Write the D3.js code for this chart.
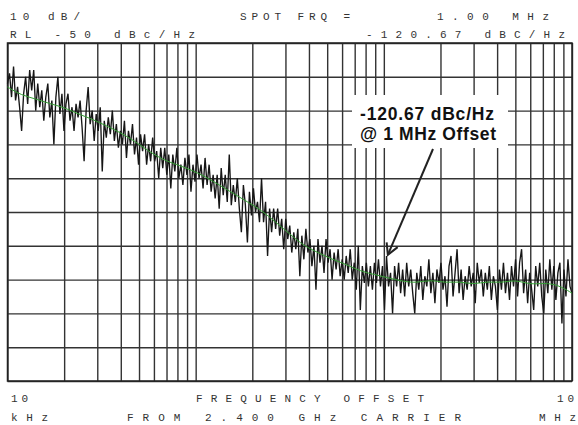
<!DOCTYPE html>
<html>
<head>
<meta charset="utf-8">
<script src="https://cdn.jsdelivr.net/npm/d3@7"></script>
<style>
  body { margin: 0; background: #fff; }
  .hp { font-family: 'Liberation Mono', 'DejaVu Sans Mono', monospace; font-size: 11px; fill: #333; }
  .note { font-family: 'Liberation Sans', Arial, sans-serif; font-weight: bold; font-size: 17.5px; fill: #111; }
</style>
</head>
<body>
<svg width="578" height="425"></svg>
<script>
// sweep: 281 points, log spaced 10 kHz .. 10 MHz, phase noise in dBc/Hz
const sweepStart = 1e4;
const sweepStop = 1e7;
const sweepDb = [
  -62,-59,-66,-57,-67,-63,-69,-76,-65,-60,-68,-58,-64,-58,-70,-62,-69,-64,-73,-66,
  -62,-72,-67,-80,-66,-60,-71,-65,-76,-68,-65,-73,-69,-76,-68,-72,-67,-75,-85,-70,
  -63,-74,-70,-79,-71,-76,-69,-88,-73,-78,-72,-77,-70,-79,-74,-81,-76,-80,-73,-84,
  -76,-80,-74,-83,-78,-86,-77,-82,-77,-86,-80,-85,-78,-85,-82,-90,-81,-87,-81,-89,
  -83,-93,-83,-88,-81,-90,-86,-92,-84,-89,-83,-94,-86,-91,-83,-90,-86,-93,-84,-92,
  -86,-94,-89,-96,-89,-99,-87,-95,-89,-97,-83,-98,-92,-97,-90,-99,-106,-92,-98,-109,
  -94,-101,-93,-100,-97,-103,-90,-103,-97,-113,-99,-106,-99,-105,-99,-107,-102,-111,-102,-108,
  -104,-112,-106,-111,-105,-119,-107,-114,-105,-112,-108,-116,-110,-123,-108,-115,-110,-118,-108,-115,
  -111,-120,-112,-117,-111,-119,-114,-120,-113,-118,-111,-120,-115,-123,-110,-129,-116,-121,-115,-122,
  -116,-123,-115,-121,-114,-122,-116,-129,-113,-122,-118,-130,-116,-122,-115,-124,-117,-125,-115,-122,
  -117,-124,-130,-118,-123,-116,-126,-119,-122,-114,-124,-118,-127,-117,-121,-115,-123,-119,-128,-116,
  -113,-125,-118,-111,-124,-117,-126,-119,-123,-116,-122,-118,-127,-115,-121,-117,-125,-118,-123,-116,
  -126,-119,-122,-129,-117,-123,-115,-124,-118,-126,-116,-122,-114,-125,-115,-111,-124,-117,-127,-118,
  -123,-129,-116,-122,-115,-125,-130,-117,-124,-114,-123,-116,-126,-118,-115,-133,-117,-125,-114,-122,-124
];
// averaged (green) trace, 41 points over the same sweep
const avgDb = [
  -63,-65.5,-66.5,-68,-69,-71,-72.5,-74.5,-76.5,-79,
  -82,-84.5,-86,-87.5,-89.5,-92,-94.5,-97,-99.5,-103,
  -106.5,-110,-112,-114,-115.5,-117.5,-118.5,-119.5,-120.5,-121,
  -120,-121,-120.5,-121.5,-120.5,-121,-120,-121.5,-121,-121.5,-124
];
const refLevel = -50;
const dbPerDiv = 10;

const headerText = ['10 dB/', 'SPOT FRQ =', '1.00 MHz', 'RL -50 dBc/Hz', '-120.67 dBC/Hz'];
const footerText = ['10', 'FREQUENCY OFFSET', '10', 'kHz', 'FROM 2.400 GHz CARRIER', 'MHz'];
const noteText = ['-120.67 dBc/Hz', '@ 1 MHz Offset'];
const markerFreq = 1e6;
const markerDb = -120.67;

const svg = d3.select('svg');
const width = +svg.attr('width');
const height = +svg.attr('height');

const render = () => {
    const margin = { top: 43, right: 6, bottom: 44, left: 7.5 };
    const innerWidth = width - margin.left - margin.right;
    const innerHeight = height - margin.top - margin.bottom;

    const sweepFreq = sweepDb.map((d, i) =>
        sweepStart * Math.pow(sweepStop / sweepStart, i / (sweepDb.length - 1)));
    const avgFreq = avgDb.map((d, i) =>
        sweepStart * Math.pow(sweepStop / sweepStart, i / (avgDb.length - 1)));

    const xScale = d3.scaleLog()
        .domain([sweepStart, sweepStop])
        .range([0, innerWidth]);

    const yScale = d3.scaleLinear()
        .domain([refLevel - 10 * dbPerDiv, refLevel])
        .range([innerHeight, 0]);

    const g = svg.append('g')
        .attr('transform', `translate(${margin.left}, ${margin.top})`);

    // grid
    const xGrid = g.append('g')
        .attr('transform', `translate(0, ${innerHeight})`)
        .call(d3.axisBottom(xScale).tickSize(-innerHeight).tickFormat(''));
    const yGrid = g.append('g')
        .call(d3.axisLeft(yScale).ticks(10).tickSize(-innerWidth).tickFormat(''));
    [xGrid, yGrid].forEach(a => {
        a.select('.domain').remove();
        a.selectAll('line').attr('stroke', '#333').attr('stroke-width', 1.4);
    });

    g.append('rect')
        .attr('width', innerWidth)
        .attr('height', innerHeight)
        .attr('fill', 'none')
        .attr('stroke', '#222')
        .attr('stroke-width', 1.5);

    const line = d3.line()
        .x(d => xScale(d[0]))
        .y(d => yScale(d[1]));

    g.append('path')
        .attr('d', line(d3.zip(sweepFreq, sweepDb)))
        .attr('fill', 'none')
        .attr('stroke', '#161616')
        .attr('stroke-width', 1.35);

    g.append('path')
        .attr('d', line.curve(d3.curveBasis)(d3.zip(avgFreq, avgDb)))
        .attr('fill', 'none')
        .attr('stroke', '#35a035')
        .attr('stroke-width', 1);

    // annotation
    const noteX = 352 - margin.left;
    const noteY = 95 - margin.top;
    g.append('rect')
        .attr('x', noteX)
        .attr('y', noteY)
        .attr('width', 156)
        .attr('height', 53)
        .attr('fill', '#fff');

    g.selectAll('.note').data(noteText).enter().append('text')
        .attr('class', 'note')
        .attr('x', noteX + 8)
        .attr('y', (d, i) => noteY + 25 + i * 20)
        .attr('textLength', (d, i) => i ? 136 : 134)
        .attr('lengthAdjust', 'spacing')
        .text(d => d);

    svg.append('defs').append('marker')
        .attr('id', 'head')
        .attr('markerUnits', 'userSpaceOnUse')
        .attr('viewBox', '-12 -7 14 14')
        .attr('markerWidth', 14)
        .attr('markerHeight', 14)
        .attr('orient', 'auto')
        .append('path')
        .attr('d', 'M-11,-6 L0,0 L-11,6')
        .attr('fill', 'none')
        .attr('stroke', '#222')
        .attr('stroke-width', 2);

    const tipX = xScale(markerFreq) + 4;
    const tipY = yScale(markerDb) - 27;
    g.append('line')
        .attr('x1', 433 - margin.left)
        .attr('y1', 149 - margin.top)
        .attr('x2', tipX)
        .attr('y2', tipY)
        .attr('stroke', '#222')
        .attr('stroke-width', 2)
        .attr('marker-end', 'url(#head)');

    // instrument annotations
    const headerPos = [[10, 20, 70], [240, 20, 110], [437, 20, 112], [10, 38, 185], [366, 38, 199]];
    svg.selectAll('.hdr').data(headerText).enter().append('text')
        .attr('class', 'hp')
        .attr('x', (d, i) => headerPos[i][0])
        .attr('y', (d, i) => headerPos[i][1])
        .attr('textLength', (d, i) => headerPos[i][2])
        .attr('lengthAdjust', 'spacing')
        .text(d => d);

    const footerPos = [[11, 402, 17], [196, 402, 228], [557, 402, 17], [11, 421, 37], [127, 421, 334], [539, 421, 37]];
    svg.selectAll('.ftr').data(footerText).enter().append('text')
        .attr('class', 'hp')
        .attr('x', (d, i) => footerPos[i][0])
        .attr('y', (d, i) => footerPos[i][1])
        .attr('textLength', (d, i) => footerPos[i][2])
        .attr('lengthAdjust', 'spacing')
        .text(d => d);
};

render();
</script>
</body>
</html>
